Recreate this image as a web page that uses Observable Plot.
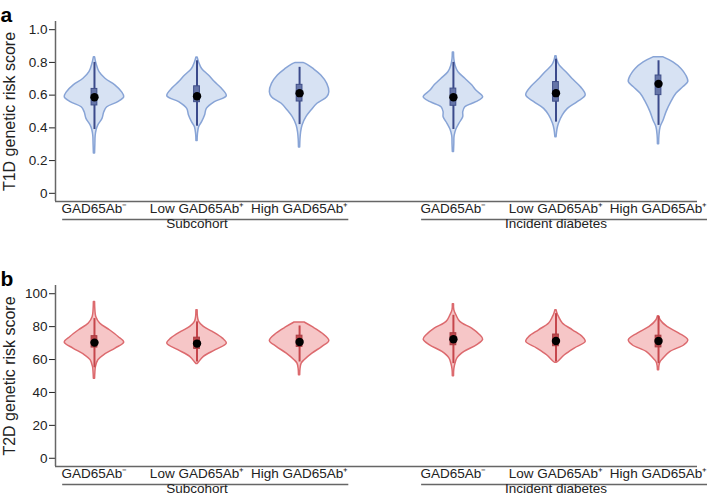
<!DOCTYPE html>
<html>
<head>
<meta charset="utf-8">
<script src="https://cdn.jsdelivr.net/npm/d3@7"></script>
<script src="https://cdn.jsdelivr.net/npm/@observablehq/plot@0.6"></script>
<style>
  html, body { margin: 0; padding: 0; background: white; }
  #chart svg { display: block; }
</style>
</head>
<body>
<div id="chart"></div>
<script>
// ---------- categories ----------
const categories = ["GAD65Ab\u207B", "Low GAD65Ab\u207A", "High GAD65Ab\u207A",
                    "GAD65Ab\u207B", "Low GAD65Ab\u207A", "High GAD65Ab\u207A"];
const positions = [0, 1, 2, 3.5, 4.5, 5.5];
const groupOf = [0, 0, 0, 1, 1, 1];
const groupNames = ["Subcohort", "Incident diabetes"];

// ---------- T1D genetic risk score: violin density profiles [value, relative density] ----------
const t1dSubNeg = [[0.244,.02],[0.30,.03],[0.35,.04],[0.384,.07],[0.415,.13],[0.455,.27],[0.495,.33],[0.526,.43],[0.557,.8],[0.587,1],[0.617,.93],[0.66,.7],[0.70,.37],[0.74,.17],[0.79,.07],[0.831,.02]];
const t1dSubLow = [[0.32,.02],[0.36,.03],[0.404,.07],[0.435,.17],[0.476,.27],[0.516,.33],[0.557,.6],[0.593,1],[0.64,.83],[0.68,.6],[0.72,.4],[0.76,.17],[0.80,.07],[0.83,.02]];
const t1dSubHigh = [[0.28,.02],[0.33,.03],[0.37,.05],[0.415,.1],[0.465,.23],[0.506,.4],[0.547,.6],[0.587,.93],[0.618,1],[0.669,.93],[0.72,.73],[0.76,.47],[0.785,.27],[0.797,.13]];
const t1dIncNeg = [[0.252,.02],[0.30,.03],[0.35,.04],[0.39,.1],[0.425,.2],[0.465,.33],[0.496,.33],[0.526,.4],[0.557,.77],[0.587,1],[0.628,.77],[0.66,.63],[0.70,.4],[0.74,.17],[0.78,.07],[0.82,.03],[0.86,.02]];
const t1dIncLow = [[0.343,.02],[0.39,.05],[0.425,.1],[0.476,.23],[0.516,.4],[0.557,.73],[0.598,1],[0.648,.84],[0.70,.55],[0.74,.35],[0.78,.13],[0.81,.05],[0.837,.02]];
const t1dIncHigh = [[0.30,.02],[0.35,.03],[0.404,.07],[0.445,.17],[0.496,.27],[0.557,.43],[0.608,.6],[0.648,.83],[0.68,1],[0.72,.93],[0.76,.77],[0.80,.5],[0.831,.17]];
const t1dMedian = [0.587, 0.593, 0.612, 0.587, 0.612, 0.669];
const t1dQ1     = [0.537, 0.557, 0.561, 0.535, 0.560, 0.600];
const t1dQ3     = [0.638, 0.654, 0.663, 0.640, 0.680, 0.720];
const t1dLo     = [0.39, 0.41, 0.42, 0.39, 0.435, 0.415];
const t1dHi     = [0.80, 0.81, 0.77, 0.80, 0.82, 0.81];
const t1dTicks  = [0, 0.2, 0.4, 0.6, 0.8, 1.0];

// ---------- T2D genetic risk score ----------
const t2dSubNeg = [[48.4,.02],[52,.03],[55.5,.05],[59.6,.13],[62.6,.32],[66.7,.71],[70.3,1],[73.7,.81],[77.8,.52],[81.9,.19],[85.9,.06],[90,.03],[95,.02]];
const t2dSubLow = [[57.3,.02],[57.9,.05],[61.6,.23],[65.7,.63],[69.7,1],[72.7,.87],[76.8,.53],[79.8,.23],[82.9,.07],[86,.03],[90,.02]];
const t2dSubHigh = [[50.5,.02],[54,.03],[57.5,.07],[59.6,.17],[63.6,.43],[67.7,.77],[71.3,1],[75.8,.77],[79.8,.43],[82.5,.17]];
const t2dIncNeg = [[49.8,.02],[54,.03],[57.5,.07],[60.6,.13],[64.6,.37],[68.7,.8],[72.1,1],[74.8,.9],[78.8,.63],[82.9,.23],[86.9,.1],[90,.03],[93.6,.02]];
const t2dIncLow = [[58,.02],[58.5,.07],[62.6,.3],[66.7,.63],[70.7,1],[73.7,.9],[77.8,.57],[81.9,.23],[85.9,.1],[88,.05],[90,.02]];
const t2dIncHigh = [[53.5,.02],[56,.03],[58.5,.07],[60.6,.17],[64.6,.4],[68.7,.87],[71.7,1],[75.8,.7],[79.8,.3],[83.9,.07],[86.3,.02]];
const t2dMedian = [70.3, 69.7, 70.7, 72.3, 71.3, 71.3];
const t2dQ1     = [67.3, 66.5, 67.7, 68.7, 68.1, 67.4];
const t2dQ3     = [74.2, 73.3, 74.5, 76.0, 75.2, 74.5];
const t2dLo     = [55.0, 58.5, 58.5, 57.5, 58.5, 57.5];
const t2dHi     = [84.9, 82.9, 80.4, 86.9, 87.9, 86.1];
const t2dTicks  = [0, 20, 40, 60, 80, 100];

// ---------- layout / style ----------
const FONT = "'Liberation Sans', Arial, Helvetica, sans-serif";
const xDomain = [-0.38, 5.88];
const maxHalf = 0.29;   // half width (x units) of the widest violin
const boxHalf = 0.028;

function panel(o) {
  const rows = o.densities.flatMap((dens, i) =>
    dens.map(([v, d]) => ({i, pos: positions[i], v, d})));
  const stats = positions.map((pos, i) => ({
    pos, median: o.median[i], q1: o.q1[i], q3: o.q3[i], lo: o.lo[i], hi: o.hi[i]}));
  const cats = positions.map((pos, i) => ({pos, label: categories[i]}));
  const grps = groupNames.map((name, g) => {
    const p = positions.filter((_, i) => groupOf[i] === g);
    return {name, start: p[0], end: p[p.length - 1], mid: (p[0] + p[p.length - 1]) / 2};
  });
  const y0 = o.yDomain[0];
  return Plot.plot({
    width: 707, height: 248,
    marginLeft: 55, marginRight: 10, marginTop: o.marginTop, marginBottom: o.marginBottom,
    style: {fontFamily: FONT, fontSize: "13.5px", color: "#222", background: "white", overflow: "visible"},
    x: {domain: xDomain, axis: null},
    y: {domain: o.yDomain, ticks: o.ticks, tickFormat: o.fmt, tickSize: 6, tickPadding: 2, label: null},
    marks: [
      Plot.areaX(rows, {
        y: "v", x1: d => d.pos - d.d * maxHalf, x2: d => d.pos + d.d * maxHalf, z: "i",
        fill: o.fill, stroke: o.stroke, strokeWidth: 1.5, curve: "catmull-rom"
      }),
      Plot.ruleX(stats, {x: "pos", y1: "lo", y2: "hi", stroke: o.whisker, strokeWidth: 2}),
      Plot.rect(stats, {x1: d => d.pos - boxHalf, x2: d => d.pos + boxHalf, y1: "q1", y2: "q3",
        fill: o.boxFill, stroke: o.boxStroke, strokeWidth: 1}),
      Plot.dot(stats, {x: "pos", y: "median", r: 4.2, fill: "black"}),
      Plot.ruleX([xDomain[0]], {stroke: "#666", strokeWidth: 1.5}),
      Plot.ruleY([y0], {stroke: "#666", strokeWidth: 1.5}),
      Plot.text(cats, {x: "pos", frameAnchor: "bottom", dy: 11, text: "label", fontSize: 13.5, fill: "#222"}),
      Plot.ruleY(grps, {y: () => y0, x1: d => d.start - 0.31, x2: d => d.end + 0.48, dy: 18,
        stroke: "#666", strokeWidth: 1.5}),
      Plot.text(grps, {x: "mid", frameAnchor: "bottom", dy: 26, text: "name", fontSize: 13.5, fill: "#222"}),
      Plot.text([o.yLabel], {frameAnchor: "left", dx: -46, rotate: -90, text: d => d, textAnchor: "middle",
        fontSize: 16, fill: "#222"}),
      Plot.text([o.letter], {frameAnchor: "top-left", dx: -55, dy: -14, text: d => d, textAnchor: "start",
        fontSize: 21, fontWeight: "bold", fill: "black"})
    ]
  });
}

const chart = document.getElementById("chart");
chart.append(panel({
  letter: "a", yLabel: "T1D genetic risk score",
  yDomain: [-0.05, 1.05], ticks: t1dTicks, fmt: d => d === 0 ? "0" : d.toFixed(1),
  densities: [t1dSubNeg, t1dSubLow, t1dSubHigh, t1dIncNeg, t1dIncLow, t1dIncHigh],
  median: t1dMedian, q1: t1dQ1, q3: t1dQ3, lo: t1dLo, hi: t1dHi,
  fill: "#d7e2f3", stroke: "#88a4d6", whisker: "#3b4a8b", boxFill: "#6675a8", boxStroke: "#3f4e88",
  marginTop: 21, marginBottom: 47
}));
chart.append(panel({
  letter: "b", yLabel: "T2D genetic risk score",
  yDomain: [-5, 105], ticks: t2dTicks, fmt: d => String(d),
  densities: [t2dSubNeg, t2dSubLow, t2dSubHigh, t2dIncNeg, t2dIncLow, t2dIncHigh],
  median: t2dMedian, q1: t2dQ1, q3: t2dQ3, lo: t2dLo, hi: t2dHi,
  fill: "#f6c6c7", stroke: "#dc6a6e", whisker: "#c6464c", boxFill: "#c0494e", boxStroke: "#a63a40",
  marginTop: 37, marginBottom: 30
}));
</script>
</body>
</html>
